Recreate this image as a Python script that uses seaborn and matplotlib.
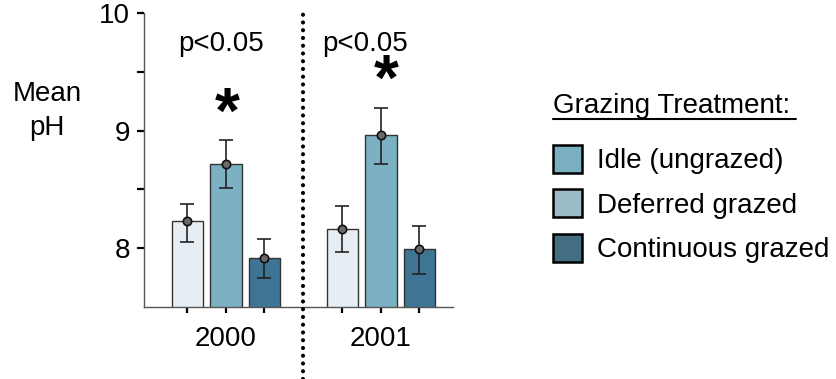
import numpy as np
import pandas as pd
import matplotlib
matplotlib.use('Agg')
import matplotlib.pyplot as plt
from matplotlib.patches import Patch
from matplotlib.lines import Line2D
import seaborn as sns

# Values
years = ['2000', '2001']
treatments = ['Idle (ungrazed)', 'Deferred grazed', 'Continuous grazed']
mean_ph = {
    '2000': [8.23, 8.72, 7.92],
    '2001': [8.16, 8.96, 7.99],
}
err_low = {
    '2000': [8.05, 8.51, 7.75],
    '2001': [7.97, 8.72, 7.78],
}
err_high = {
    '2000': [8.38, 8.92, 8.08],
    '2001': [8.36, 9.19, 8.19],
}
bar_colors = ['#E6EEF4', '#7BB1C3', '#3E7494']
legend_colors = ['#7AB0C2', '#9CBCC7', '#446F83']

sns.set_theme(style='white')
plt.rcParams['font.family'] = ['Liberation Sans', 'DejaVu Sans']
plt.rcParams['text.color'] = 'black'
plt.rcParams['xtick.color'] = 'black'
plt.rcParams['ytick.color'] = 'black'
plt.rcParams['axes.labelcolor'] = 'black'

rows = []
for y in years:
    for t, v in zip(treatments, mean_ph[y]):
        rows.append({'year': y, 'treatment': t, 'ph': v})
df = pd.DataFrame(rows)

fig = plt.figure(figsize=(8.36, 3.79), dpi=100)
ax = fig.add_axes([144 / 836, 1 - 307 / 379, (453 - 144) / 836, (307 - 13) / 379])

sns.barplot(data=df, x='year', y='ph', hue='treatment', hue_order=treatments,
            palette=bar_colors, saturation=1, width=0.745, gap=0.19, errorbar=None,
            edgecolor='#333333', linewidth=1.0, legend=False, ax=ax)

# error bars + mean markers at bar centres
bar_containers = list(ax.containers)
centres = []
for i, cont in enumerate(bar_containers):
    for j, bar in enumerate(cont):
        xc = bar.get_x() + bar.get_width() / 2
        centres.append(xc)
        y = years[j]
        m = mean_ph[y][i]
        ax.errorbar(xc, m, yerr=[[m - err_low[y][i]], [err_high[y][i] - m]],
                    fmt='none', ecolor='#222222', elinewidth=1.2, capsize=5, capthick=1.2, zorder=4)
        ax.plot(xc, m, marker='o', ms=6, mfc='#6a6a6a', mec='#111111', mew=1.2, zorder=5)

ax.set_ylim(7.5, 10)
ax.set_xlim(-0.529, 1.465)
ax.set_yticks([8, 9, 10])
ax.set_yticks([8.5, 9.5], minor=True)
ax.set_yticklabels(['8', '9', '10'])
centres = sorted(centres)
ax.set_xticks(centres)
ax.set_xticklabels(['', '2000', '', '', '2001', ''])
ax.set_xlabel('')
ax.set_ylabel('')

for s in ['top', 'right']:
    ax.spines[s].set_visible(False)
ax.spines['left'].set_color('#555555')
ax.spines['bottom'].set_color('#555555')
ax.spines['left'].set_linewidth(1.0)
ax.spines['bottom'].set_linewidth(1.0)
ax.tick_params(axis='y', which='both', direction='out', length=5, width=1.6,
               color='black', labelsize=20, pad=5, left=True)
ax.tick_params(axis='x', direction='out', length=4, width=1.6, color='black',
               labelsize=20, pad=10, bottom=True)

# dotted separator between years
ax.axvline(0.5, ymin=-0.245, ymax=1.017, clip_on=False, color='black', lw=3,
           linestyle=(0, (0.01, 1.85)), dash_capstyle='round', zorder=6)

# significance labels
ax.text(-0.03, 9.68, 'p<0.05', ha='center', va='baseline', fontsize=20)
ax.text(-0.10 + 1, 9.68, 'p<0.05', ha='center', va='baseline', fontsize=20)
ax.text(0.01, 8.98, '*', ha='center', va='baseline', fontsize=46, fontweight='bold')
ax.text(1.035, 9.26, '*', ha='center', va='baseline', fontsize=46, fontweight='bold')

fig.text(47 / 836, 1 - 111 / 379, 'Mean\npH', ha='center', va='center',
         fontsize=20, linespacing=1.4)

# legend
fig.text(553 / 836, 1 - 113 / 379, 'Grazing Treatment:', ha='left', va='baseline', fontsize=20)
fig.add_artist(Line2D([553 / 836, 796 / 836], [1 - 119 / 379, 1 - 119 / 379],
                      transform=fig.transFigure, color='black', lw=1.5))
handles = [Patch(facecolor=c, edgecolor='black', linewidth=1.8) for c in legend_colors]
fig.legend(handles, treatments, loc='upper left', bbox_to_anchor=(553 / 836, 1 - 145 / 379),
           frameon=False, fontsize=20, borderpad=0, borderaxespad=0,
           handlelength=1.05, handleheight=1.15, handletextpad=0.55, labelspacing=0.55)

fig.savefig('out.png', dpi=100)
